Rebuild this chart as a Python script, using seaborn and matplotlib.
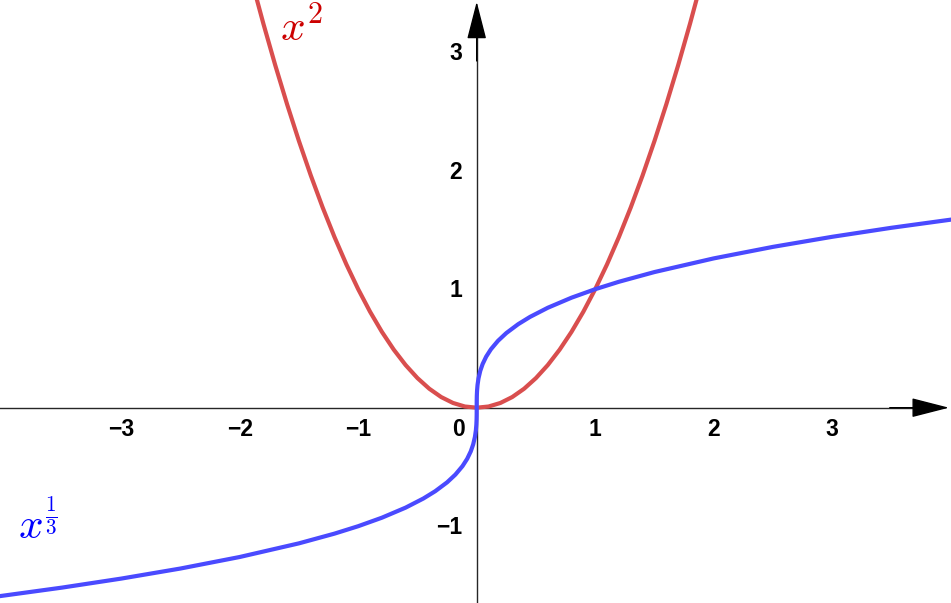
import matplotlib
matplotlib.use('Agg')
import matplotlib.pyplot as plt
import seaborn as sns
import pandas as pd

sns.set_style('white')
plt.rcParams['font.family'] = ['Liberation Sans', 'DejaVu Sans']
plt.rcParams['mathtext.fontset'] = 'cm'

# values
sq_x = [-1.9, -1.8, -1.7, -1.6, -1.5, -1.4, -1.3, -1.2, -1.1, -1.0,
        -0.9, -0.8, -0.7, -0.6, -0.5, -0.4, -0.3, -0.2, -0.1, 0.0,
        0.1, 0.2, 0.3, 0.4, 0.5, 0.6, 0.7, 0.8, 0.9, 1.0,
        1.1, 1.2, 1.3, 1.4, 1.5, 1.6, 1.7, 1.8, 1.9]
sq_y = [3.61, 3.24, 2.89, 2.56, 2.25, 1.96, 1.69, 1.44, 1.21, 1.0,
        0.81, 0.64, 0.49, 0.36, 0.25, 0.16, 0.09, 0.04, 0.01, 0.0,
        0.01, 0.04, 0.09, 0.16, 0.25, 0.36, 0.49, 0.64, 0.81, 1.0,
        1.21, 1.44, 1.69, 1.96, 2.25, 2.56, 2.89, 3.24, 3.61]

cb_xpos = [0.0, 0.0001, 0.0003, 0.001, 0.003, 0.007, 0.015, 0.03, 0.05, 0.08,
           0.12, 0.18, 0.25, 0.35, 0.45, 0.6, 0.8, 1.0, 1.2, 1.5,
           2.0, 2.5, 3.0, 3.5, 4.1]
cb_ypos = [0.0, 0.0464, 0.0669, 0.1, 0.1442, 0.1913, 0.2466, 0.3107, 0.3684, 0.4309,
           0.4932, 0.5646, 0.6300, 0.7047, 0.7663, 0.8434, 0.9283, 1.0, 1.0627, 1.1447,
           1.2599, 1.3572, 1.4422, 1.5183, 1.6005]

x_ticks = [-4, -3, -2, -1, 1, 2, 3]
x_labels = ['', '\u22123', '\u22122', '\u22121', '1', '2', '3']
y_ticks = [-1, 1, 2, 3]
y_labels = ['\u22121', '1', '2', '3']

RED = '#d94e4e'
BLUE = '#4a4aff'
UNIT = 118.5  # pixels per unit

sq = pd.DataFrame({'x': sq_x, 'y': sq_y})
cb_x = [-v for v in cb_xpos[::-1]] + cb_xpos[1:]
cb_y = [-v for v in cb_ypos[::-1]] + cb_ypos[1:]
cb = pd.DataFrame({'x': cb_x, 'y': cb_y})

fig = plt.figure(figsize=(9.51, 6.03), dpi=100)
ax = fig.add_axes([0, 0, 1, 1])

xmin, xmax = -476.7 / UNIT, (951 - 476.7) / UNIT
ymin, ymax = -(603 - 407.7) / UNIT, 407.7 / UNIT

sns.lineplot(data=sq, x='x', y='y', ax=ax, color=RED, linewidth=3,
             sort=False, estimator=None, zorder=3)
sns.lineplot(data=cb, x='x', y='y', ax=ax, color=BLUE, linewidth=3,
             sort=False, estimator=None, zorder=4)

ax.set_xlim(xmin, xmax)
ax.set_ylim(ymin, ymax)
ax.set_xlabel('')
ax.set_ylabel('')

# axes through the origin
for s in ['top', 'right']:
    ax.spines[s].set_visible(False)
ax.spines['left'].set_position(('data', 0))
ax.spines['bottom'].set_position(('data', 0))
ax.spines['left'].set_linewidth(1)
ax.spines['bottom'].set_linewidth(1)
x_tip = (949 - 476.7) / UNIT
y_tip = (407.7 - 1.7) / UNIT
ax.spines['bottom'].set_bounds(xmin, x_tip - 0.1)
ax.spines['left'].set_bounds(ymin, y_tip - 0.1)

ax.set_xticks(x_ticks)
ax.set_yticks(y_ticks)
ax.set_xticklabels([])
ax.set_yticklabels([])
ax.tick_params(axis='both', direction='out', length=4, width=1, color='black')

# arrow heads
arrow_kw = dict(arrowstyle='-|>,head_length=23.8,head_width=6.1', color='black',
                lw=1, shrinkA=0, shrinkB=0, mutation_scale=1)
ax.annotate('', xy=(x_tip, 0), xytext=(x_tip - 0.5, 0), arrowprops=arrow_kw, zorder=5)
ax.annotate('', xy=(0, y_tip), xytext=(0, y_tip - 0.5), arrowprops=arrow_kw, zorder=5)

lab_kw = dict(fontsize=16.5, fontweight='bold', color='black')
for t, l in zip(x_ticks, x_labels):
    ax.text(t, -28 / UNIT, l, ha='center', va='baseline', **lab_kw)
ax.text(-0.15, -28 / UNIT, '0', ha='center', va='baseline', **lab_kw)
for t, l in zip(y_ticks, y_labels):
    ax.text(-14.5 / UNIT, t - 8 / UNIT, l, ha='right', va='baseline', **lab_kw)

# curve labels
ax.text(-1.66, 3.10, r'$x^2$', color='#cc0000', fontsize=31, ha='left', va='baseline')
ax.text(-3.87, -1.117, r'$x^{\frac{1}{3}}$', color='#0000ff', fontsize=31,
        ha='left', va='baseline')

fig.savefig('out.png', dpi=100)
